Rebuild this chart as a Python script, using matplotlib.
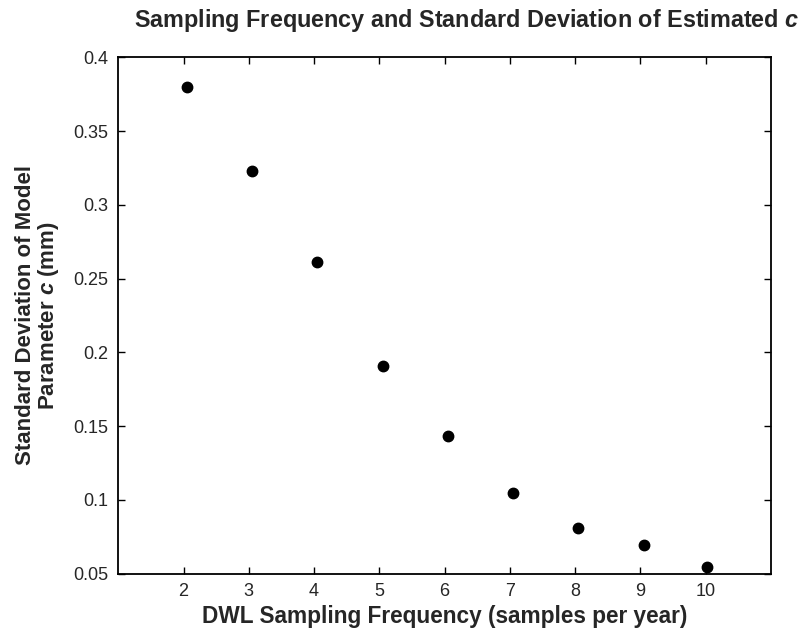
import matplotlib
matplotlib.use("Agg")
import matplotlib.pyplot as plt

# samples per year vs std of estimated c
freq = [2.05, 3.05, 4.05, 5.05, 6.05, 7.05, 8.05, 9.05, 10.02]
std_c = [0.380, 0.323, 0.261, 0.1906, 0.1433, 0.105, 0.0808, 0.0696, 0.0543]

x_ticks = [2, 3, 4, 5, 6, 7, 8, 9, 10]
y_ticks = [0.05, 0.1, 0.15, 0.2, 0.25, 0.3, 0.35, 0.4]
y_tick_labels = ["0.05", "0.1", "0.15", "0.2", "0.25", "0.3", "0.35", "0.4"]

plt.rcParams['font.family'] = ['Liberation Sans', 'DejaVu Sans']
plt.rcParams['mathtext.fontset'] = 'custom'
plt.rcParams['mathtext.it'] = 'Liberation Sans:italic:bold'
plt.rcParams['mathtext.rm'] = 'Liberation Sans:bold'
plt.rcParams['mathtext.bf'] = 'Liberation Sans:bold'

text_col = '#262626'

fig = plt.figure(figsize=(8.08, 6.36), dpi=100)
ax = fig.add_axes([0.1464, 0.098, 0.9542 - 0.1464, 0.9099 - 0.098])

ax.plot(freq, std_c, 'o', color='black', markersize=7.5, linestyle='none')

ax.set_xlim(1, 11)
ax.set_ylim(0.05, 0.4)
ax.set_xticks(x_ticks)
ax.set_yticks(y_ticks)
ax.set_yticklabels(y_tick_labels)
ax.tick_params(direction='in', length=5, width=1, labelsize=13, labelcolor=text_col,
               top=True, right=True, pad=7)
for sp in ax.spines.values():
    sp.set_linewidth(1.3)

fig.text(0.577, 0.968, r'Sampling Frequency and Standard Deviation of Estimated $c$',
         ha='center', va='center', fontsize=16.8, fontweight='bold', color=text_col)
ax.set_xlabel('DWL Sampling Frequency (samples per year)', fontsize=16.3,
              fontweight='bold', color=text_col, labelpad=3)
ax.set_ylabel('Standard Deviation of Model\n' + r'Parameter $c$ (mm)', fontsize=16,
              fontweight='bold', color=text_col, labelpad=9, linespacing=1.0)

fig.savefig('out.png', dpi=100)
